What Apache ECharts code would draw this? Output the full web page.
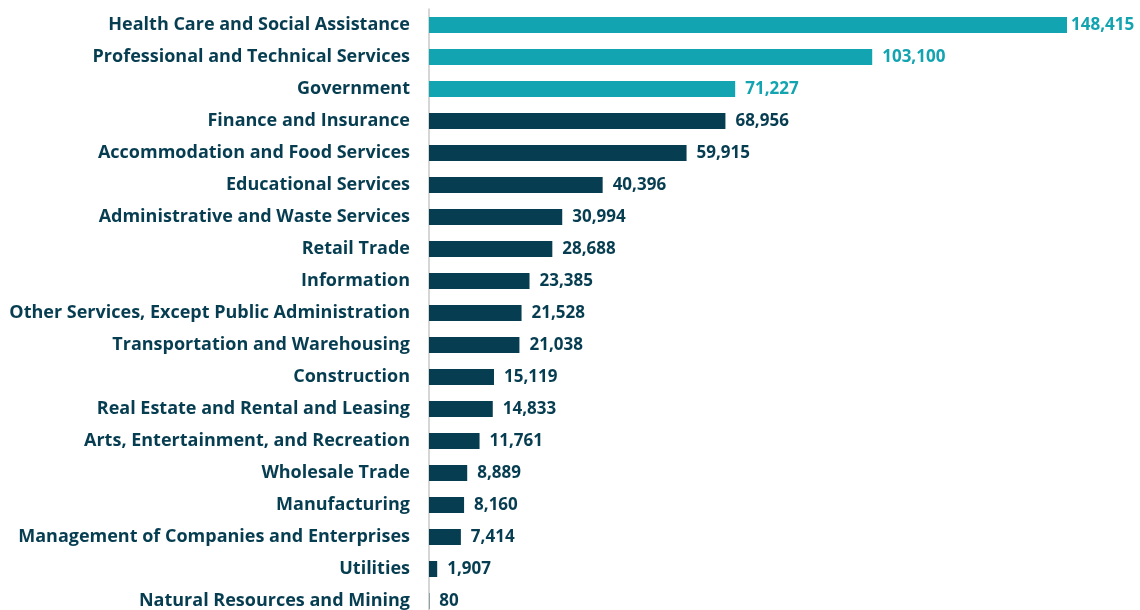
<!DOCTYPE html>
<html>
<head>
<meta charset="utf-8">
<script src="https://cdn.jsdelivr.net/npm/echarts@6/dist/echarts.min.js"></script>
<style>
  html, body { margin: 0; padding: 0; background: #fff; }
  #chart { width: 1140px; height: 610px; }
</style>
</head>
<body>
<div id="chart"></div>
<script>
// industries, top to bottom
var industries = [
    'Health Care and Social Assistance',
    'Professional and Technical Services',
    'Government',
    'Finance and Insurance',
    'Accommodation and Food Services',
    'Educational Services',
    'Administrative and Waste Services',
    'Retail Trade',
    'Information',
    'Other Services, Except Public Administration',
    'Transportation and Warehousing',
    'Construction',
    'Real Estate and Rental and Leasing',
    'Arts, Entertainment, and Recreation',
    'Wholesale Trade',
    'Manufacturing',
    'Management of Companies and Enterprises',
    'Utilities',
    'Natural Resources and Mining'
];
var workers = [148415, 103100, 71227, 68956, 59915, 40396, 30994, 28688, 23385,
    21528, 21038, 15119, 14833, 11761, 8889, 8160, 7414, 1907, 80];
// how many of the top rows are highlighted
var highlightCount = 3;

var TEAL = '#12a4b1';
var NAVY = '#063d50';

function drawIndustryBars(ElementId) {
    var myChart = echarts.init(document.getElementById(ElementId));

    var data = workers.map(function (v, i) {
        var hi = i < highlightCount;
        var item = {
            value: v,
            itemStyle: { color: hi ? TEAL : NAVY },
            label: { color: hi ? TEAL : NAVY }
        };
        // the longest bar's label sits tight to the edge
        if (i === 0) item.label.distance = 4;
        return item;
    });

    var option = {
        animation: false,
        grid: {
            left: 429,
            right: 73,
            top: 9,
            height: 608,
            outerBoundsMode: 'none'
        },
        xAxis: {
            type: 'value',
            min: 0,
            max: 148415,
            show: false
        },
        yAxis: {
            type: 'category',
            inverse: true,
            data: industries,
            axisLine: { show: true, lineStyle: { color: '#c8c8c8', width: 1.5 } },
            axisTick: { show: false },
            axisLabel: {
                margin: 19,
                color: NAVY,
                fontFamily: 'Open Sans',
                fontWeight: 'bold',
                fontSize: 18
            }
        },
        series: [{
            type: 'bar',
            barWidth: 16,
            data: data,
            label: {
                show: true,
                position: 'right',
                distance: 10,
                fontFamily: 'Open Sans',
                fontWeight: 'bold',
                fontSize: 17,
                formatter: function (p) {
                    return p.value.toLocaleString('en-US');
                }
            }
        }]
    };
    myChart.setOption(option);
}

drawIndustryBars('chart');
</script>
</body>
</html>
